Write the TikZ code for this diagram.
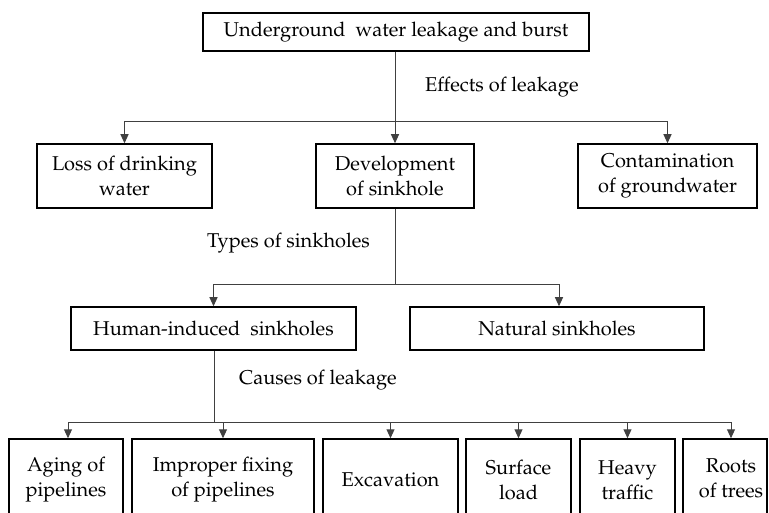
\documentclass[tikz,border=0pt]{standalone}
\usepackage[T1]{fontenc}
\usepackage{mathpazo}
\usetikzlibrary{arrows.meta}
\newcommand{\fsz}{\fontsize{20}{25}\selectfont}
\tikzset{
  box/.style={draw=black, line width=1.5pt, fill=white, align=center, inner sep=0pt, font=\fsz},
  lbl/.style={inner sep=0pt, anchor=west, font=\fsz},
  conn/.style={draw=black!75, line width=1pt},
  arr/.style={conn, -{Triangle[width=8pt,length=9pt]}}
}
\begin{document}
\begin{tikzpicture}[x=1pt,y=-1pt]
\useasboundingbox (0,0) rectangle (769,513);
\fill[white] (0,0) rectangle (769,513);
\clip (0,0) rectangle (769,513);
% top
\node[box, minimum width=386pt, minimum height=38pt] (top) at (396,32) {Underground\ \ water leakage and burst};
\node[lbl] (eff) at (425,87) {Effects of leakage};
% row 2
\node[box, minimum width=175pt, minimum height=64pt] (loss) at (124.5,176) {Loss of drinking\\water};
\node[box, minimum width=158pt, minimum height=64pt] (dev) at (395,176) {Development\\of sinkhole};
\node[box, minimum width=179pt, minimum height=64pt] (cont) at (667.5,176) {Contamination\\of groundwater};
\node[lbl] (types) at (207,243) {Types of sinkholes};
% row 3
\node[box, minimum width=285pt, minimum height=43pt] (human) at (213.5,328.5) {Human-induced\ \ sinkholes};
\node[box, minimum width=294pt, minimum height=43pt] (natural) at (557,328.5) {Natural sinkholes};
\node[lbl] (causes) at (239,380) {Causes of leakage};
% row 4
\node[box, minimum width=114pt, minimum height=82pt] (aging) at (66,480) {Aging of\\pipelines};
\node[box, minimum width=182pt, minimum height=82pt] (improper) at (223,480) {Improper fixing\\of pipelines};
\node[box, minimum width=135pt, minimum height=82pt] (exc) at (390.5,480) {Excavation};
\node[box, minimum width=105pt, minimum height=82pt] (surf) at (518.5,480) {Surface\\load};
\node[box, minimum width=95pt, minimum height=82pt] (heavy) at (627.5,480) {Heavy\\traffic};
\node[box, minimum width=84pt, minimum height=82pt] (roots) at (725,480) {\hspace*{12pt}\begin{tabular}{@{}c@{}}Roots\\of trees\end{tabular}};
% junctions
\coordinate (j1) at (395,122);
\coordinate (j2) at (395,285);
\coordinate (j3) at (214,422);
% connectors
\draw[conn] (top.south -| j1) -- (j1);
\draw[arr] (j1) -| (loss.north);
\draw[arr] (j1) -- (dev.north);
\draw[arr] (j1) -| (cont.north);
\draw[conn] (dev.south) -- (j2);
\draw[arr] (j2) -| (human.north);
\draw[arr] (j2) -| ([xshift=2pt]natural.north);
\draw[conn] (human.south -| j3) -- (j3);
\draw[arr] (j3) -| ([xshift=2pt]aging.north);
\draw[arr] (j3) -| (improper.north);
\draw[arr] (j3) -| (exc.north);
\draw[arr] (j3) -| (surf.north);
\draw[arr] (j3) -| (heavy.north);
\draw[arr] (j3) -| ([xshift=6pt]roots.north);
\end{tikzpicture}
\end{document}
